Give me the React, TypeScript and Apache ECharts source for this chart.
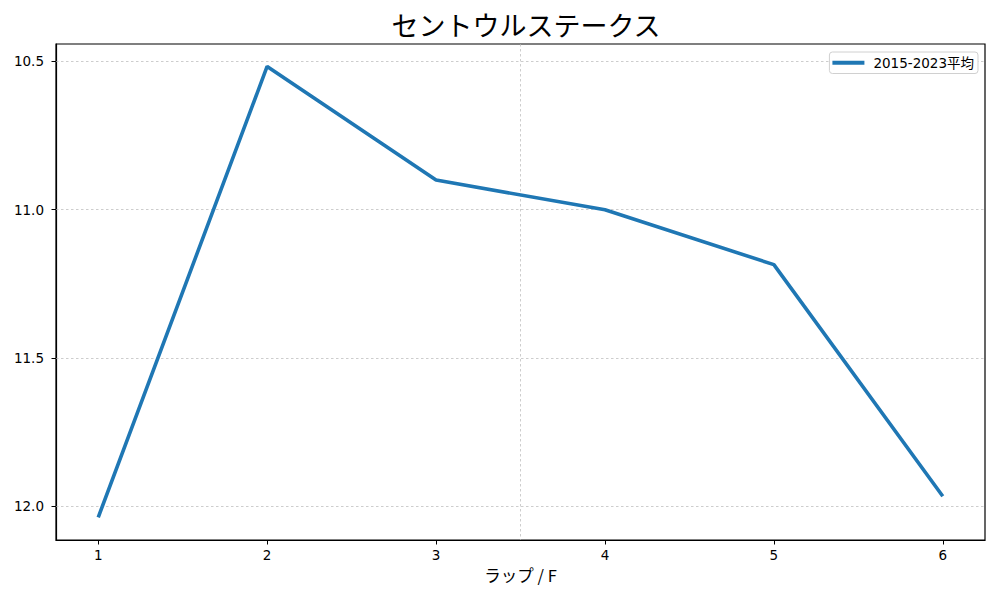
import React, { useEffect, useRef } from "react";
import * as echarts from "echarts";

const laps = [1, 2, 3, 4, 5, 6];
const avgTimes = [12.037, 10.517, 10.9, 11.0, 11.185, 11.966];
const yTicks = [10.5, 11.0, 11.5, 12.0];
const xTicks = [1, 2, 3, 4, 5, 6];
const seriesName = "2015-2023平均";
const titleText = "セントウルステークス";
const xAxisName = "ラップ / F";

const FONT = "'Noto Sans CJK JP', 'Noto Sans', sans-serif";
const LFONT = "'DejaVu Sans', 'Noto Sans CJK JP', sans-serif";

export default function App() {
  const ref = useRef<HTMLDivElement>(null);
  useEffect(() => {
    if (!ref.current) return;
    const chart = echarts.init(ref.current, undefined, { renderer: "svg" });
    const gridLine = { type: [2.5, 2.5], color: "#b8b8b8", width: 0.7 };
    chart.setOption({
      animation: false,
      backgroundColor: "#fff",
      title: {
        text: titleText,
        left: 521,
        top: 6,
        textAlign: "center",
        textStyle: { fontFamily: FONT, fontSize: 27, fontWeight: "normal", color: "#000" },
      },
      legend: {
        right: 22,
        top: 52,
        data: [seriesName],
        itemWidth: 32,
        itemHeight: 4,
        padding: [4, 4, 4, 3],
        borderColor: "#d0d0d0",
        borderWidth: 1,
        borderRadius: 3,
        backgroundColor: "#fff",
        textStyle: { fontFamily: LFONT, fontSize: 13.5, color: "#000", padding: [0, 0, 0, 4] },
        icon: "rect",
      },
      grid: {
        left: 56,
        right: 15,
        top: 44,
        bottom: 60,
        show: true,
        borderColor: "#000",
        borderWidth: 1.2,
        containLabel: false,
      },
      xAxis: {
        type: "value",
        min: 0.75,
        max: 6.25,
        name: xAxisName,
        nameLocation: "middle",
        nameGap: 27,
        nameTextStyle: { fontFamily: FONT, fontSize: 16.5, color: "#000" },
        axisLine: { show: true, lineStyle: { color: "#000", width: 1.2 } },
        axisTick: { show: true, customValues: xTicks, length: 4.5, lineStyle: { color: "#000" } },
        axisLabel: {
          customValues: xTicks,
          fontFamily: LFONT,
          fontSize: 13.5,
          color: "#000",
          margin: 8,
          formatter: (v: number) => String(v),
        },
        splitLine: { show: false },
      },
      yAxis: {
        type: "value",
        inverse: true,
        min: 10.4412,
        max: 12.1134,
        axisLine: { show: true, lineStyle: { color: "#000", width: 1.2 } },
        axisTick: { show: true, customValues: yTicks, length: 4.5, lineStyle: { color: "#000" } },
        axisLabel: {
          customValues: yTicks,
          fontFamily: LFONT,
          fontSize: 13.5,
          color: "#000",
          margin: 12,
          formatter: (v: number) => v.toFixed(1),
        },
        splitLine: { show: false },
      },
      series: [
        {
          name: seriesName,
          type: "line",
          data: laps.map((x, i) => [x, avgTimes[i]]),
          symbol: "none",
          lineStyle: { color: "#1f77b4", width: 3.6 },
          itemStyle: { color: "#1f77b4" },
          z: 5,
          markLine: {
            silent: true,
            symbol: ["none", "none"],
            label: { show: false },
            lineStyle: gridLine,
            z: 1,
            data: [
              ...yTicks.map((v) => ({ yAxis: v })),
              { xAxis: 3.5 },
            ],
          },
        },
      ],
    });
    return () => chart.dispose();
  }, []);
  return (
    <div
      ref={ref}
      style={{ position: "fixed", left: 0, top: 0, width: 1000, height: 600, background: "#fff" }}
    />
  );
}
